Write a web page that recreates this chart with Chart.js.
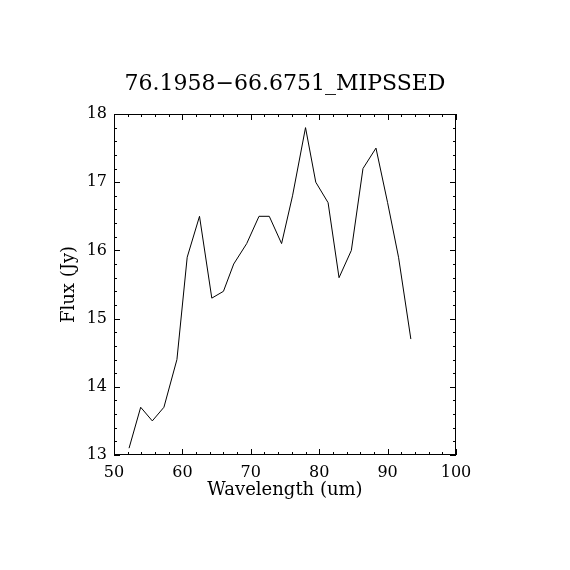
<!DOCTYPE html>
<html>
<head>
<meta charset="utf-8">
<script src="https://cdn.jsdelivr.net/npm/chart.js@4"></script>
<style>
  html, body { margin: 0; padding: 0; background: #fff; }
  canvas { display: block; }
</style>
</head>
<body>
<canvas id="sed" width="570" height="570"></canvas>
<script>
// spectrum
const wavelength = [52.2, 53.9, 55.6, 57.3, 59.2, 60.7, 62.5, 64.3, 66.0, 67.5, 69.4, 71.2, 72.7,
                    74.5, 76.1, 78.0, 79.5, 81.3, 82.9, 84.7, 86.4, 88.3, 90.0, 91.6, 93.4];
const flux = [13.1, 13.7, 13.5, 13.7, 14.4, 15.9, 16.5, 15.3, 15.4, 15.8, 16.1, 16.5, 16.5,
              16.1, 16.8, 17.8, 17.0, 16.7, 15.6, 16.0, 17.2, 17.5, 16.7, 15.9, 14.7];

const xTicks = [50, 60, 70, 80, 90, 100];
const yTicks = [13, 14, 15, 16, 17, 18];
const xMinorStep = 2;
const yMinorStep = 0.2;

const points = wavelength.map((w, i) => ({ x: w, y: flux[i] }));
const fontFamily = "'DejaVu Serif', serif";

// IDL-style frame with inward ticks on all four sides
const frameTicks = {
  id: 'frameTicks',
  afterDraw(chart) {
    const { ctx, chartArea: a, scales: { x, y } } = chart;
    ctx.save();
    ctx.strokeStyle = '#000';
    ctx.lineWidth = 1;
    ctx.strokeRect(a.left + 0.5, a.top + 0.5, a.right - a.left - 1, a.bottom - a.top - 1);
    ctx.beginPath();
    const xv = [];
    for (let v = xTicks[0]; v <= xTicks[xTicks.length - 1] + 1e-6; v += xMinorStep) xv.push(v);
    xv.forEach(v => {
      const px = Math.round(x.getPixelForValue(v)) + 0.5;
      const len = xTicks.includes(Math.round(v)) && Math.abs(v - Math.round(v)) < 1e-6 ? 6 : 3;
      ctx.moveTo(px, a.bottom); ctx.lineTo(px, a.bottom - len);
      ctx.moveTo(px, a.top); ctx.lineTo(px, a.top + len);
    });
    const yv = [];
    for (let v = yTicks[0]; v <= yTicks[yTicks.length - 1] + 1e-6; v += yMinorStep) yv.push(v);
    yv.forEach(v => {
      const py = Math.round(y.getPixelForValue(v)) + 0.5;
      const len = Math.abs(v - Math.round(v)) < 1e-6 ? 6 : 3;
      ctx.moveTo(a.left, py); ctx.lineTo(a.left + len, py);
      ctx.moveTo(a.right, py); ctx.lineTo(a.right - len, py);
    });
    ctx.stroke();
    ctx.restore();
  }
};

new Chart(document.getElementById('sed'), {
  type: 'line',
  data: {
    datasets: [{
      data: points,
      borderColor: '#000',
      borderWidth: 1,
      pointRadius: 0,
      tension: 0,
      fill: false
    }]
  },
  options: {
    responsive: false,
    animation: false,
    devicePixelRatio: 1,
    layout: { padding: 0 },
    plugins: {
      legend: { display: false },
      tooltip: { enabled: false },
      title: {
        display: true,
        text: '76.1958\u221266.6751_MIPSSED',
        color: '#000',
        font: { family: fontFamily, size: 22, weight: 'normal', lineHeight: 1.2 },
        padding: { top: 71, bottom: 16.6 }
      }
    },
    scales: {
      x: {
        type: 'linear',
        min: 50, max: 100,
        afterBuildTicks: s => { s.ticks = xTicks.map(v => ({ value: v })); },
        afterFit: s => { s.height = 115; },
        grid: { display: false, drawTicks: false },
        border: { display: false },
        ticks: {
          color: '#000', padding: 8, maxRotation: 0,
          font: { family: fontFamily, size: 16 }
        },
        title: {
          display: true,
          text: 'Wavelength (um)',
          color: '#000',
          font: { family: fontFamily, size: 18, lineHeight: 1.2 },
          padding: { top: 0, bottom: 69 }
        }
      },
      y: {
        type: 'linear',
        min: 13, max: 18,
        afterBuildTicks: s => { s.ticks = yTicks.map(v => ({ value: v })); },
        afterFit: s => { s.width = 114; },
        grid: { display: false, drawTicks: false },
        border: { display: false },
        ticks: {
          color: '#000', padding: 7,
          font: { family: fontFamily, size: 16 }
        },
        title: {
          display: true,
          text: 'Flux (Jy)',
          color: '#000',
          font: { family: fontFamily, size: 18, lineHeight: 1.2 },
          padding: { top: 59, bottom: 0 }
        }
      },
      // empty right-hand axis, only reserves the right margin
      yr: {
        type: 'linear',
        position: 'right',
        min: 13, max: 18,
        afterFit: s => { s.width = 114; },
        grid: { display: false, drawTicks: false },
        border: { display: false },
        ticks: { display: false }
      }
    }
  },
  plugins: [frameTicks]
});
</script>
</body>
</html>
